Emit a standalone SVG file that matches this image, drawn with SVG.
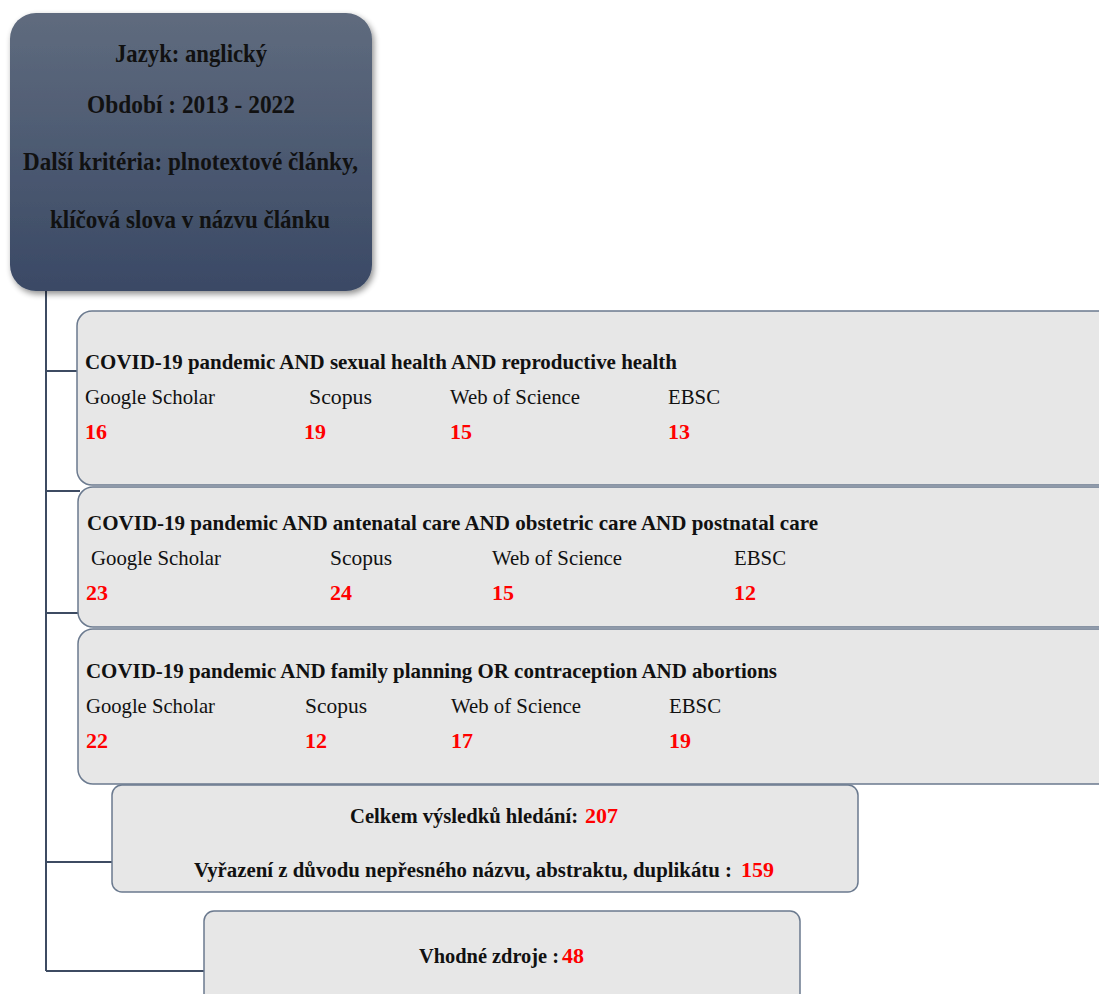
<svg xmlns="http://www.w3.org/2000/svg" width="1099" height="994" viewBox="0 0 1099 994">
<defs>
<linearGradient id="topg" x1="0" y1="0" x2="0" y2="1">
<stop offset="0" stop-color="#5f6b7e"/>
<stop offset="1" stop-color="#3a4965"/>
</linearGradient>
<filter id="sh" x="-10%" y="-10%" width="125%" height="125%">
<feGaussianBlur in="SourceAlpha" stdDeviation="3"/>
<feOffset dx="2" dy="3"/>
<feComponentTransfer><feFuncA type="linear" slope="0.45"/></feComponentTransfer>
<feMerge><feMergeNode/><feMergeNode in="SourceGraphic"/></feMerge>
</filter>
</defs>
<style>
.box{fill:#e7e7e7;stroke:#6b7a8f;stroke-width:1.5}
.conn{stroke:#3d4b62;stroke-width:2;fill:none}
.t{font-family:"Liberation Serif",serif;fill:#111}
.hb{font-size:26px;font-weight:bold}
.tb{font-size:22px;font-weight:bold}
.sb{font-size:20.5px;font-weight:bold}
.tr{font-size:22px}
.n{font-family:"Liberation Serif",serif;font-size:22px;font-weight:bold;fill:#ff0000}
</style>
<rect width="1099" height="994" fill="#ffffff"/>
<g id="connectors">
<path class="conn" d="M46,291 V971"/>
<path class="conn" d="M46,371 H78"/>
<path class="conn" d="M46,491 H80"/>
<path class="conn" d="M46,613 H84"/>
<path class="conn" d="M46,862 H114"/>
<path class="conn" d="M46,971 H210"/>
</g>
<g id="criteria">
<rect x="10" y="13" width="362" height="278" rx="26" fill="url(#topg)" filter="url(#sh)"/>
<text class="t hb" x="115" y="62" textLength="152" lengthAdjust="spacingAndGlyphs">Jazyk: anglický</text>
<text class="t hb" x="87" y="113" textLength="208" lengthAdjust="spacingAndGlyphs">Období : 2013 - 2022</text>
<text class="t hb" x="23" y="170" textLength="335" lengthAdjust="spacingAndGlyphs">Další kritéria:  plnotextové články,</text>
<text class="t hb" x="50" y="228" textLength="280" lengthAdjust="spacingAndGlyphs">klíčová slova v názvu článku</text>
</g>
<g id="query1">
<rect class="box" x="77" y="311" width="1040" height="174" rx="15"/>
<text class="t tb" x="85" y="369" textLength="592" lengthAdjust="spacingAndGlyphs">COVID-19 pandemic AND sexual health AND reproductive health</text>
<text class="t tr" x="85" y="404" textLength="130" lengthAdjust="spacingAndGlyphs">Google Scholar</text>
<text class="t tr" x="309" y="404" textLength="63" lengthAdjust="spacingAndGlyphs">Scopus</text>
<text class="t tr" x="450" y="404" textLength="130" lengthAdjust="spacingAndGlyphs">Web of Science</text>
<text class="t tr" x="668" y="404" textLength="52" lengthAdjust="spacingAndGlyphs">EBSC</text>
<text class="n" x="85" y="439">16</text>
<text class="n" x="304" y="439">19</text>
<text class="n" x="450" y="439">15</text>
<text class="n" x="668" y="439">13</text>
</g>
<g id="query2">
<rect class="box" x="78" y="487" width="1040" height="140" rx="15"/>
<text class="t tb" x="87" y="530" textLength="731" lengthAdjust="spacingAndGlyphs">COVID-19 pandemic AND antenatal care AND obstetric care AND postnatal care</text>
<text class="t tr" x="91" y="565" textLength="130" lengthAdjust="spacingAndGlyphs">Google Scholar</text>
<text class="t tr" x="330" y="565" textLength="62" lengthAdjust="spacingAndGlyphs">Scopus</text>
<text class="t tr" x="492" y="565" textLength="130" lengthAdjust="spacingAndGlyphs">Web of Science</text>
<text class="t tr" x="734" y="565" textLength="52" lengthAdjust="spacingAndGlyphs">EBSC</text>
<text class="n" x="86" y="600">23</text>
<text class="n" x="330" y="600">24</text>
<text class="n" x="492" y="600">15</text>
<text class="n" x="734" y="600">12</text>
</g>
<g id="query3">
<rect class="box" x="78" y="629" width="1040" height="155" rx="15"/>
<text class="t tb" x="86" y="678" textLength="691" lengthAdjust="spacingAndGlyphs">COVID-19 pandemic AND family planning OR contraception AND abortions</text>
<text class="t tr" x="86" y="713" textLength="129" lengthAdjust="spacingAndGlyphs">Google Scholar</text>
<text class="t tr" x="305" y="713" textLength="62" lengthAdjust="spacingAndGlyphs">Scopus</text>
<text class="t tr" x="451" y="713" textLength="130" lengthAdjust="spacingAndGlyphs">Web of Science</text>
<text class="t tr" x="669" y="713" textLength="52" lengthAdjust="spacingAndGlyphs">EBSC</text>
<text class="n" x="86" y="748">22</text>
<text class="n" x="305" y="748">12</text>
<text class="n" x="451" y="748">17</text>
<text class="n" x="669" y="748">19</text>
</g>
<g id="total">
<rect class="box" x="112" y="785" width="746" height="107" rx="10"/>
<text class="t sb" x="350" y="823" textLength="228" lengthAdjust="spacingAndGlyphs">Celkem výsledků hledání:</text>
<text class="n" x="585" y="823">207</text>
<text class="t sb" x="194" y="877" textLength="538" lengthAdjust="spacingAndGlyphs">Vyřazení z důvodu nepřesného názvu, abstraktu, duplikátu :</text>
<text class="n" x="741" y="877">159</text>
</g>
<g id="result">
<rect class="box" x="204" y="911" width="596" height="100" rx="10"/>
<text class="t sb" x="419" y="963" textLength="140" lengthAdjust="spacingAndGlyphs">Vhodné zdroje :</text>
<text class="n" x="562" y="963">48</text>
</g>
</svg>
